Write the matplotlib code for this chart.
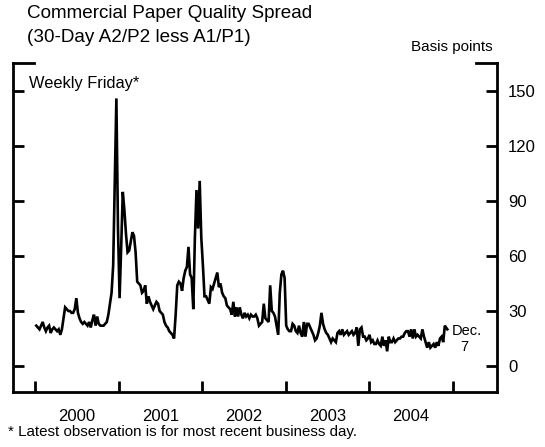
"""
Commercial paper quality spread (30-day A2/P2 less A1/P1), weekly Fridays.
"""

import matplotlib
matplotlib.use('Agg')
import matplotlib.pyplot as plt
import pandas as pd

plt.rcParams['font.family'] = ['Liberation Sans', 'DejaVu Sans']

# Weekly Friday values, basis points, one list per year.
spread_2000 = [22, 21, 20, 22, 24, 21, 19, 21, 22, 18, 20, 21, 20, 19, 20, 17,
               20, 26, 32, 31, 30, 30, 29, 29, 31, 37, 29, 26, 24, 23, 24, 23,
               22, 24, 21, 25, 28, 22, 27, 23, 22, 22, 22, 23, 24, 28, 34, 40,
               55, 100, 146, 75]
spread_2001 = [37, 65, 95, 85, 72, 62, 63, 68, 73, 71, 62, 46, 45, 44, 40, 41,
               44, 34, 38, 35, 33, 31, 33, 35, 34, 30, 29, 28, 24, 22, 21, 19,
               18, 17, 15, 28, 44, 46, 45, 41, 48, 52, 54, 65, 50, 48, 31, 70,
               96, 75, 101, 70]
spread_2002 = [55, 38, 38, 36, 34, 43, 42, 45, 48, 51, 43, 45, 40, 38, 37, 33,
               32, 31, 28, 35, 27, 32, 27, 32, 28, 26, 29, 27, 28, 26, 28, 27,
               27, 28, 26, 22, 23, 24, 34, 26, 25, 24, 44, 30, 29, 27, 22, 17,
               40, 50, 52, 48]
spread_2003 = [22, 20, 19, 19, 23, 22, 19, 18, 22, 18, 16, 24, 16, 23, 23, 21,
               19, 17, 14, 15, 18, 22, 29, 23, 20, 18, 17, 15, 13, 15, 14, 13,
               18, 19, 17, 20, 17, 18, 19, 17, 18, 19, 17, 18, 21, 11, 20, 21,
               16, 16, 14, 15]
spread_2004 = [17, 13, 14, 12, 12, 14, 12, 11, 16, 11, 14, 8, 16, 13, 13, 15,
               13, 14, 15, 15, 16, 16, 18, 19, 19, 16, 20, 15, 20, 16, 17, 16,
               15, 20, 16, 13, 10, 13, 10, 11, 12, 10, 13, 11, 15, 16, 13, 22]

# Latest observation (most recent business day).
latest_date = '2004-12-07'
latest_value = 20

year_labels = ['2000', '2001', '2002', '2003', '2004']
y_ticks = [0, 30, 60, 90, 120, 150]

values = spread_2000 + spread_2001 + spread_2002 + spread_2003 + spread_2004
dates = list(pd.date_range('2000-01-07', periods=len(values), freq='W-FRI'))
dates.append(pd.Timestamp(latest_date))
values.append(latest_value)

fig = plt.figure(figsize=(5.45, 4.47), dpi=100)
ax = fig.add_axes([12.7 / 545, 1 - 392 / 447, (497 - 12.7) / 545, (392 - 62.5) / 447])

ax.plot(dates, values, color='black', linewidth=1.9, solid_joinstyle='miter')

ax.set_xlim(pd.Timestamp('1999-09-26'), pd.Timestamp('2005-07-12'))
ax.set_ylim(-14.2, 165.6)

# Frame: full left/right/bottom, short stubs at the top corners.
ax.spines['top'].set_visible(False)
for side in ['left', 'right', 'bottom']:
    ax.spines[side].set_linewidth(2)
ax.plot([0, 0.043], [1, 1], transform=ax.transAxes, color='black',
        linewidth=2, clip_on=False, solid_capstyle='projecting')
ax.plot([0.957, 1], [1, 1], transform=ax.transAxes, color='black',
        linewidth=2, clip_on=False, solid_capstyle='projecting')

# Year boundary ticks, labels centred mid-year.
year_starts = [pd.Timestamp(f'{y}-01-01') for y in range(2000, 2006)]
ax.set_xticks(year_starts)
ax.set_xticklabels([])
ax.set_xticks([pd.Timestamp(f'{y}-07-02') for y in year_labels], minor=True)
ax.set_xticklabels(year_labels, minor=True)
ax.tick_params(axis='x', which='major', direction='in', length=8, width=2)
ax.tick_params(axis='x', which='minor', length=0, labelsize=12, pad=12)

ax.set_yticks(y_ticks)
ax.yaxis.set_ticks_position('both')
ax.tick_params(axis='y', direction='in', length=8, width=2,
               labelleft=False, labelright=True, labelsize=12, pad=8)

fig.text(27 / 545, 1 - 14 / 447, 'Commercial Paper Quality Spread',
         fontsize=13.6, va='center', ha='left')
fig.text(27 / 545, 1 - 37 / 447, '(30-Day A2/P2 less A1/P1)',
         fontsize=13.6, va='center', ha='left')
fig.text(493 / 545, 1 - 47 / 447, 'Basis points', fontsize=11,
         va='center', ha='right')
ax.text(0.033, 0.96, 'Weekly Friday*', transform=ax.transAxes, fontsize=11.8,
        va='top', ha='left')
ax.annotate('Dec.', xy=(pd.Timestamp(latest_date), latest_value),
            xytext=(3, -1), textcoords='offset points', fontsize=10.5,
            va='center', ha='left')
ax.annotate('7', xy=(pd.Timestamp(latest_date), latest_value),
            xytext=(9, -13), textcoords='offset points', fontsize=10.5,
            va='center', ha='left')
fig.text(8 / 545, 1 - 432 / 447, '* Latest observation is for most recent business day.',
         fontsize=10.9, va='center', ha='left')

fig.savefig('out.png', dpi=100)
